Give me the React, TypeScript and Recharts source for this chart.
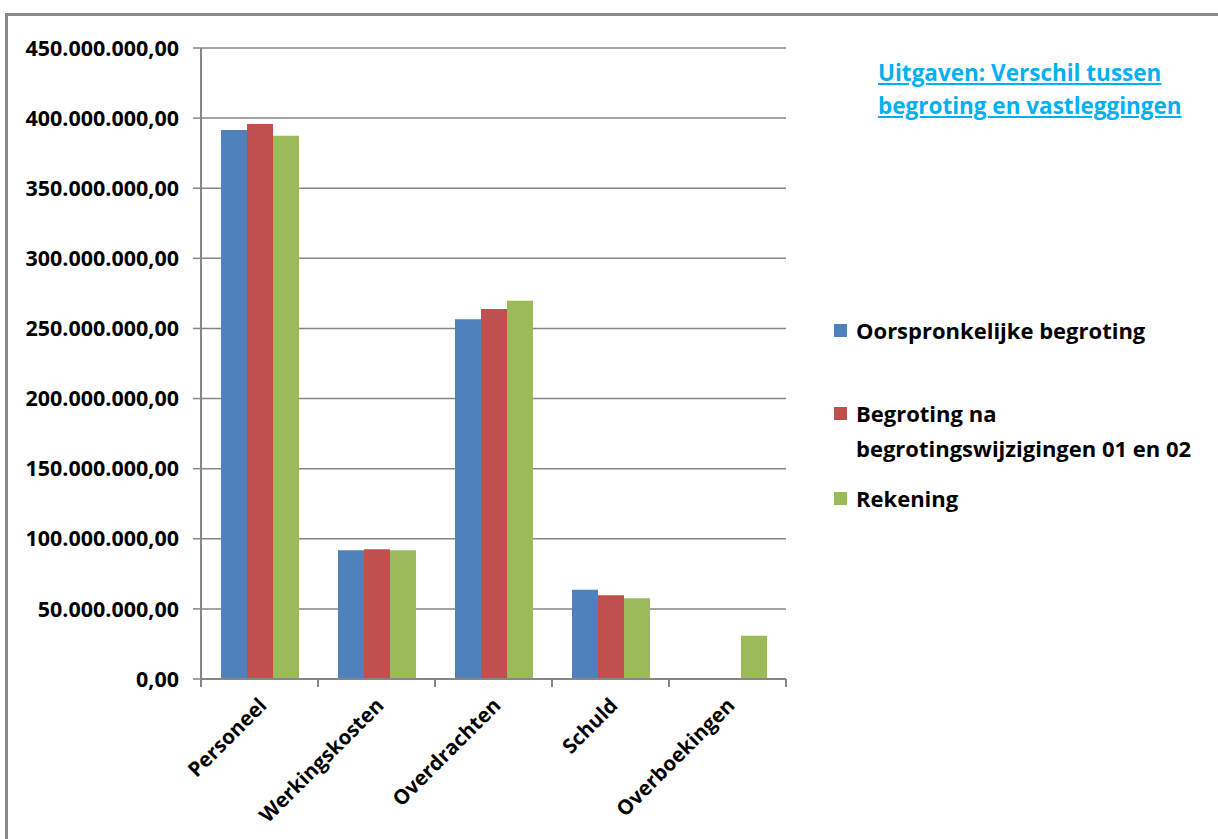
import { Bar, BarChart, CartesianGrid, XAxis, YAxis } from "recharts";

const categories = ["Personeel", "Werkingskosten", "Overdrachten", "Schuld", "Overboekingen"];
const oorspronkelijk = [391500000, 91800000, 256500000, 63700000, 0];
const begrotingNa = [395800000, 92500000, 263900000, 59700000, 0];
const rekening = [387500000, 91800000, 269800000, 57500000, 30900000];
const yTicks = [0, 50000000, 100000000, 150000000, 200000000, 250000000, 300000000, 350000000, 400000000, 450000000];

const seriesNames = [
  "Oorspronkelijke begroting",
  "Begroting na begrotingswijzigingen 01 en 02",
  "Rekening",
];
const colors = ["#4F81BD", "#C0504D", "#9BBB59"];

const data = categories.map((name, i) => ({
  name,
  a: oorspronkelijk[i],
  b: begrotingNa[i],
  c: rekening[i],
}));

const FONT = "'Open Sans', Lato, sans-serif";
const GRID = "#868686";

// 450000000 -> "450.000.000,00"
const fmt = (v: number) => {
  const s = Math.round(v).toString().replace(/\B(?=(\d{3})+(?!\d))/g, ".");
  return `${s},00`;
};

const BAND = 117;

const CategoryTick = (props: any) => {
  const { x, y, payload, index } = props;
  const last = index === categories.length - 1;
  return (
    <g>
      <line x1={x - BAND / 2} y1={y - 8} x2={x - BAND / 2} y2={y} stroke={GRID} strokeWidth={2} />
      {last && <line x1={x + BAND / 2} y1={y - 8} x2={x + BAND / 2} y2={y} stroke={GRID} strokeWidth={2} />}
      <text
        x={x}
        y={y}
        transform={`rotate(-45, ${x}, ${y}) translate(-8, 20)`}
        textAnchor="end"
        fontFamily={FONT}
        fontWeight={700}
        fontSize={20.5}
        fill="#000"
      >
        {payload.value}
      </text>
    </g>
  );
};

const LegendBox = () => (
  <div style={{ fontFamily: FONT, fontWeight: 700, fontSize: 22, color: "#000", lineHeight: "35px" }}>
    <div style={{ display: "flex", alignItems: "flex-start" }}>
      <span style={{ width: 13, height: 13, background: colors[0], marginTop: 11, marginRight: 9 }} />
      <span>{seriesNames[0]}</span>
    </div>
    <div style={{ display: "flex", alignItems: "flex-start", marginTop: 48 }}>
      <span style={{ width: 13, height: 13, background: colors[1], marginTop: 11, marginRight: 9, flexShrink: 0 }} />
      <span style={{ width: 370, whiteSpace: "nowrap" }}>
        Begroting na
        <br />
        begrotingswijzigingen 01 en 02
      </span>
    </div>
    <div style={{ display: "flex", alignItems: "flex-start", marginTop: 15 }}>
      <span style={{ width: 13, height: 13, background: colors[2], marginTop: 11, marginRight: 9 }} />
      <span>{seriesNames[2]}</span>
    </div>
  </div>
);

export default function App() {
  return (
    <div
      style={{
        position: "fixed",
        left: 0,
        top: 0,
        width: 1218,
        height: 839,
        overflow: "hidden",
        background: "#fff",
      }}
    >
      <div
        style={{
          position: "absolute",
          left: 5,
          top: 13,
          width: 1240,
          height: 860,
          border: "3px solid #8a8a8a",
        }}
      />
      <div
        style={{
          position: "absolute",
          left: 878,
          top: 56,
          fontFamily: FONT,
          fontWeight: 700,
          fontSize: 22.5,
          lineHeight: "33px",
          color: "#00B0F0",
          textDecoration: "underline",
          whiteSpace: "nowrap",
        }}
      >
        Uitgaven: Verschil tussen
        <br />
        begroting en vastleggingen
      </div>
      <div style={{ position: "absolute", left: 834, top: 313, width: 384 }}>
        <LegendBox />
      </div>
      <div style={{ position: "absolute", left: 0, top: 0 }}>
        <BarChart
          width={1218}
          height={839}
          data={data}
          margin={{ top: 48, right: 432, bottom: 0, left: 0 }}
          barSize={26}
          barGap={0}
        >
          <CartesianGrid vertical={false} stroke={GRID} strokeWidth={1.5} />
          <XAxis
            dataKey="name"
            height={160}
            axisLine={{ stroke: GRID, strokeWidth: 2 }}
            tickLine={false}
            tick={<CategoryTick />}
            interval={0}
          />
          <YAxis
            width={201}
            domain={[0, 450000000]}
            ticks={yTicks}
            tickFormatter={fmt}
            axisLine={{ stroke: GRID, strokeWidth: 2 }}
            tickLine={{ stroke: GRID, strokeWidth: 1.5 }}
            tickSize={8}
            tickMargin={14}
            tick={{ fontFamily: FONT, fontWeight: 700, fontSize: 21.5, fill: "#000" }}
            interval={0}
          />
          <Bar dataKey="a" name={seriesNames[0]} fill={colors[0]} isAnimationActive={false} />
          <Bar dataKey="b" name={seriesNames[1]} fill={colors[1]} isAnimationActive={false} />
          <Bar dataKey="c" name={seriesNames[2]} fill={colors[2]} isAnimationActive={false} />
        </BarChart>
      </div>
    </div>
  );
}
